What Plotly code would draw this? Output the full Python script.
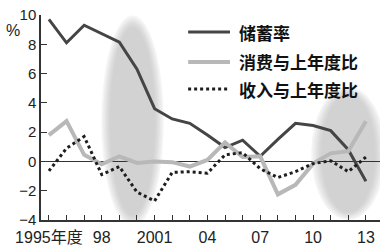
import plotly.graph_objects as go

years = list(range(1995, 2014))
savings = [9.7, 8.1, 9.3, 8.75, 8.15, 6.3, 3.6, 2.9, 2.6, 1.8, 0.95, 1.45, 0.35,
           1.5, 2.6, 2.45, 2.1, 0.8, -1.35]
consumption = [1.8, 2.75, 0.45, -0.2, 0.35, -0.1, 0.0, -0.05, -0.35, 0.1, 1.3, 0.3,
               0.35, -2.25, -1.6, -0.15, 0.55, 0.7, 2.75]
income = [-0.65, 0.9, 1.7, -0.9, -0.35, -2.1, -2.7, -0.75, -0.7, -0.8, 0.45, 0.6,
          -0.5, -1.1, -0.7, -0.15, 0.05, -0.7, 0.3]

series_names = ["储蓄率", "消费与上年度比", "收入与上年度比"]
x_tickvals = years
x_ticktext = ["1995年度", "", "", "98", "", "", "2001", "", "", "04", "", "",
              "07", "", "", "10", "", "", "13"]
y_tickvals = [-4, -2, 0, 2, 4, 6, 8, 10]

# shaded periods (x0, x1, y0, y1) in data units
highlights = [(1998.45, 2001.05, -3.7, 9.2), (2010.45, 2013.55, -3.5, 4.6)]

NUM_FONT = "Liberation Sans, Arial"
CJK_FONT = "Noto Sans CJK SC"

fig = go.Figure()
styles = [
    dict(color="#454545", width=3),
    dict(color="#b8b8b8", width=4),
    dict(color="#1e1e1e", width=3, dash="dot"),
]
for name, vals, st in zip(series_names, [savings, consumption, income], styles):
    fig.add_trace(go.Scatter(x=years, y=vals, mode="lines", name=name,
                             line=st, showlegend=False))

shapes = []
for (x0, x1, y0, y1) in highlights:
    for pad in [0.36, 0.28, 0.2, 0.13, 0.06, 0.0]:
        sx = pad * (x1 - x0) / 2
        sy = pad * (y1 - y0) / 6
        shapes.append(dict(type="circle", xref="x", yref="y",
                           x0=x0 - sx, x1=x1 + sx, y0=y0 - sy, y1=y1 + sy,
                           fillcolor="rgba(190,190,190,0.17)",
                           line=dict(width=0), layer="below"))

# manual legend
leg_y = [0.917, 0.771, 0.639]
annotations = []
for name, st, ly in zip(series_names, styles, leg_y):
    shapes.append(dict(type="line", xref="paper", yref="paper",
                       x0=0.434, x1=0.5575, y0=ly, y1=ly,
                       line=dict(color=st["color"], width=st["width"],
                                 dash=st.get("dash", "solid"))))
    annotations.append(dict(text=f"<b>{name}</b>", xref="paper", yref="paper",
                            x=0.578, y=ly, xanchor="left", yanchor="middle",
                            showarrow=False,
                            font=dict(family=CJK_FONT, size=17, color="#111")))

annotations.append(dict(text="%", xref="paper", yref="paper", x=-0.083, y=0.922,
                        xanchor="center", yanchor="middle", showarrow=False,
                        font=dict(family=NUM_FONT, size=16, color="#222")))

fig.update_layout(
    width=385, height=250,
    margin=dict(l=41, r=5, t=15, b=30),
    paper_bgcolor="white", plot_bgcolor="white",
    shapes=shapes, annotations=annotations,
    showlegend=False,
)
fig.update_xaxes(range=[1994.55, 2013.8], tickmode="array", tickvals=x_tickvals,
                 ticktext=x_ticktext, ticks="inside", ticklen=5, tickcolor="#333",
                 showline=True, linecolor="#333", linewidth=1.5, showgrid=False,
                 zeroline=False, tickangle=0, ticklabelstandoff=2,
                 tickfont=dict(family=NUM_FONT + ", " + CJK_FONT, size=16, color="#222"))
fig.update_yaxes(range=[-4, 10], tickmode="array", tickvals=y_tickvals,
                 ticks="inside", ticklen=6, tickcolor="#333",
                 showline=True, linecolor="#333", linewidth=1.5, showgrid=False,
                 zeroline=True, zerolinecolor="#333", zerolinewidth=1,
                 tickfont=dict(family=NUM_FONT, size=15, color="#222"))

fig.write_html("out.html")
